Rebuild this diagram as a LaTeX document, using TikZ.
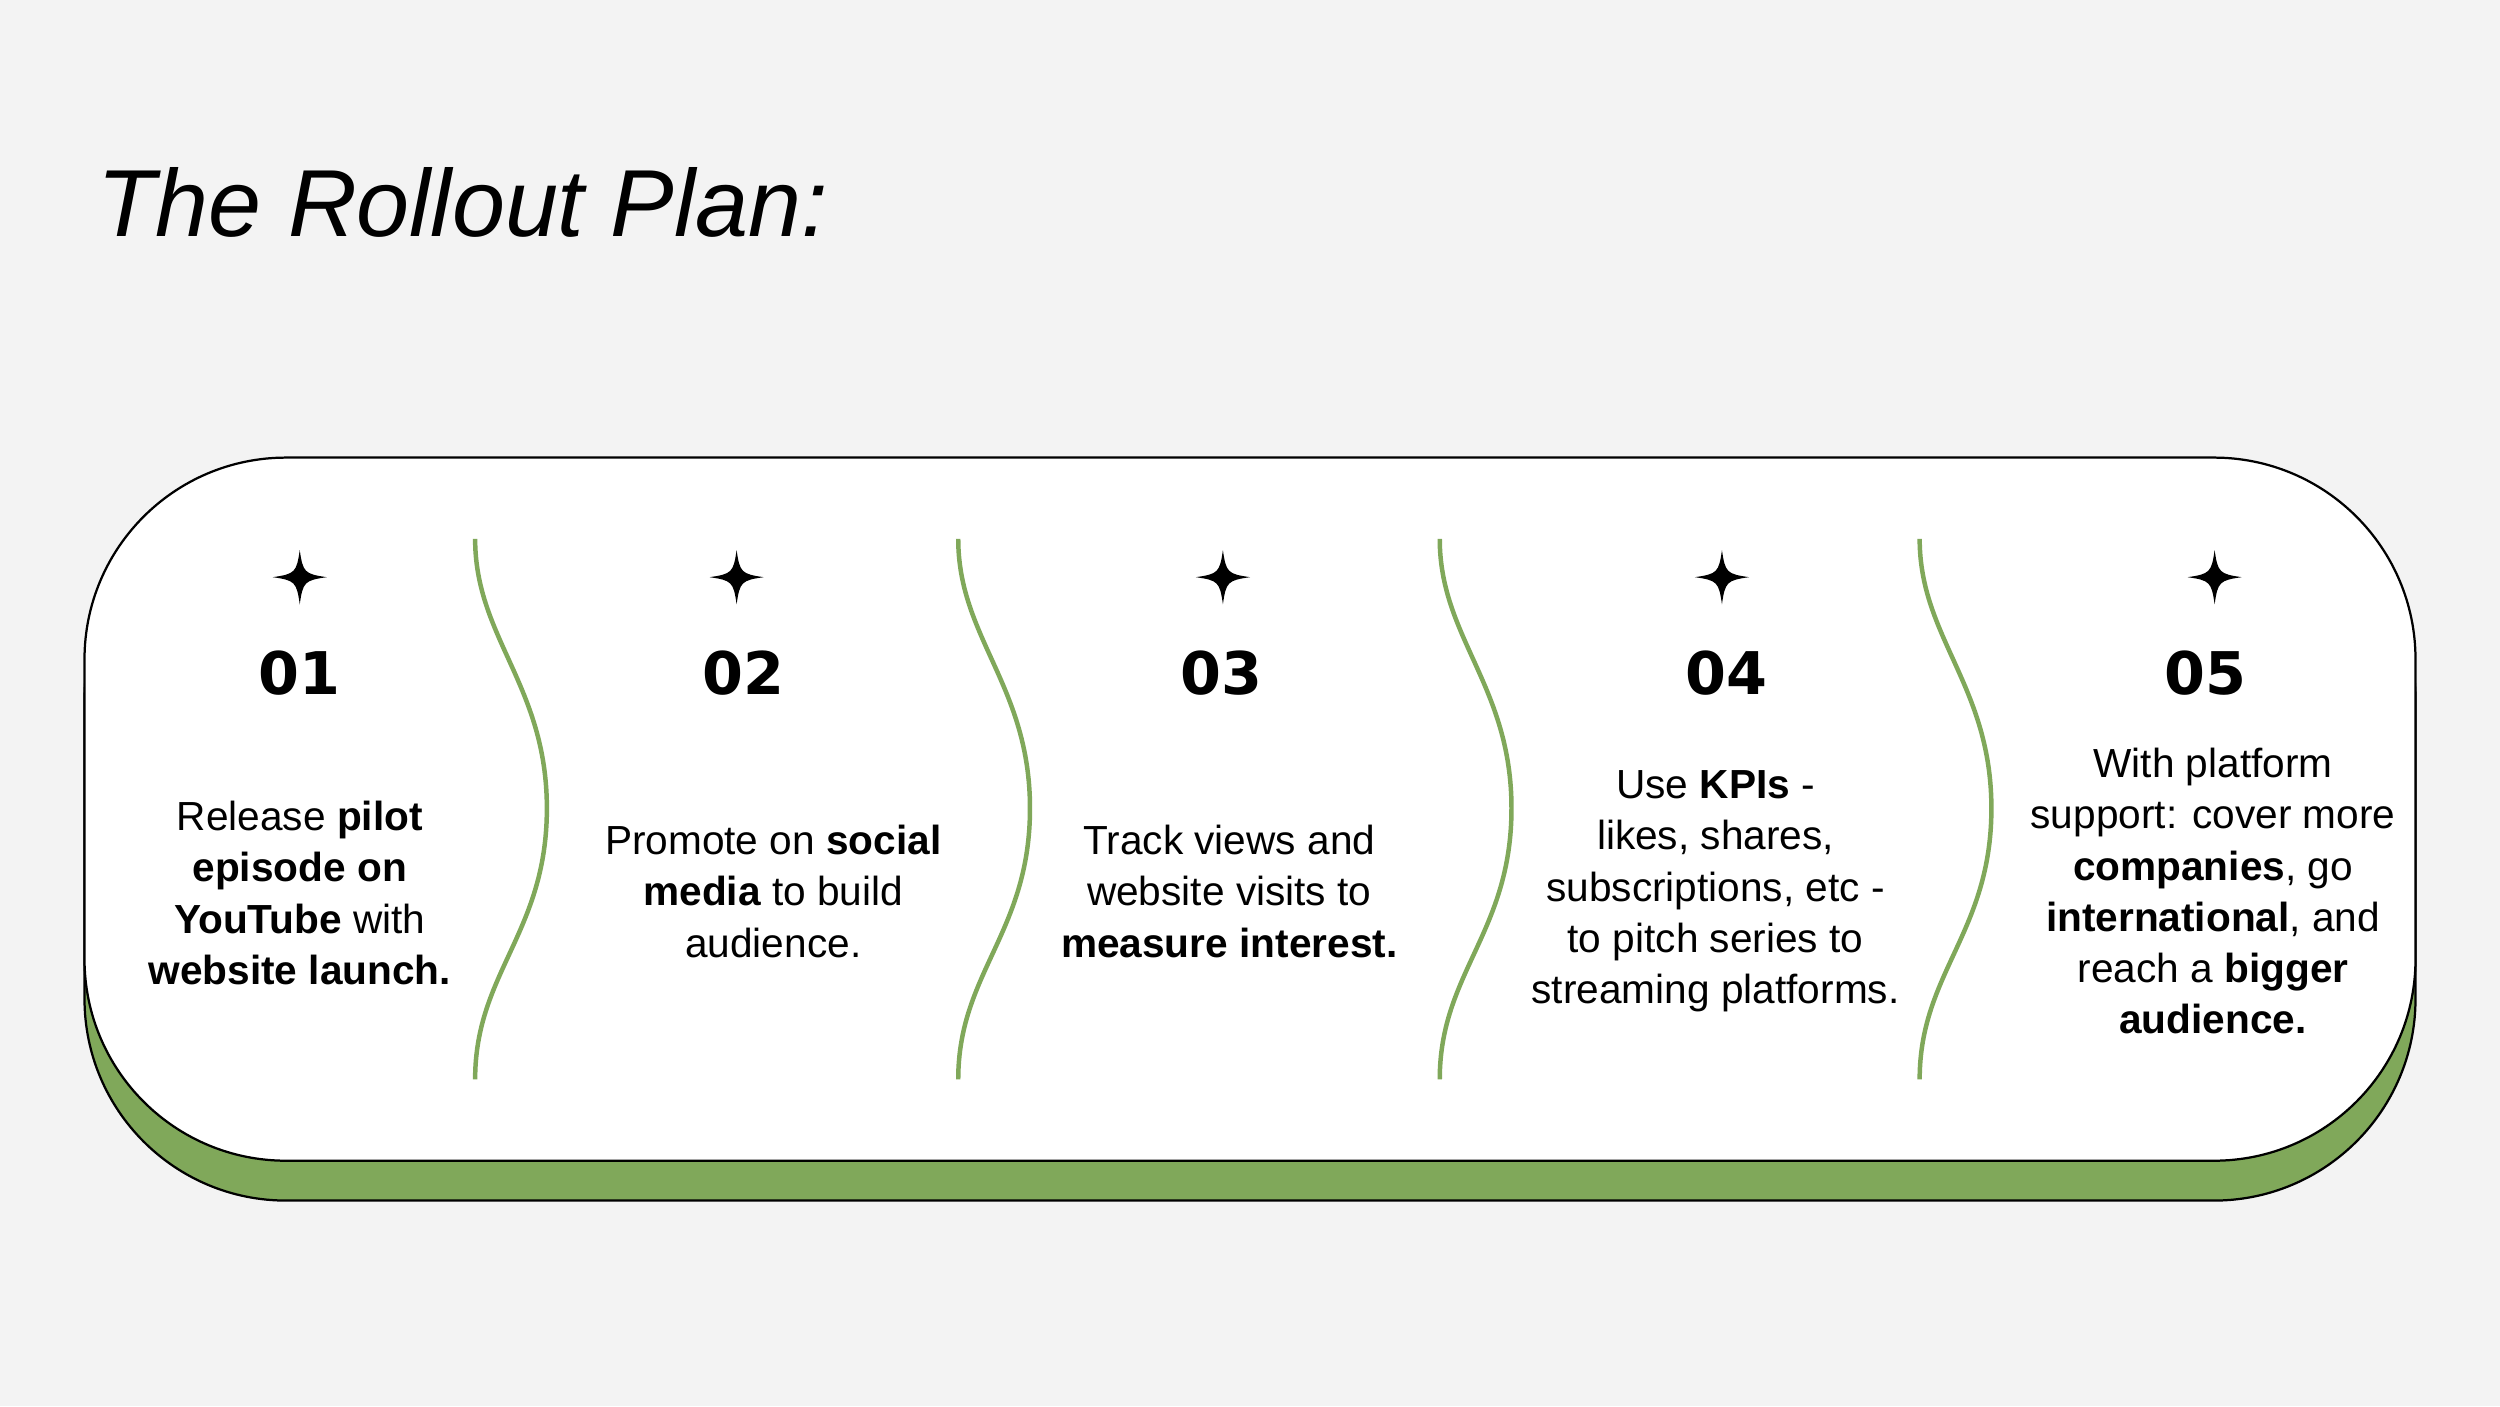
\documentclass[tikz,border=0pt]{standalone}
\usepackage{fontspec}
\setmainfont{Liberation Sans}
\newfontfamily\numfont{DejaVu Sans}
\definecolor{bg}{HTML}{F3F3F3}
\definecolor{grn}{HTML}{80A85A}
\tikzset{
  body/.style={align=center,font=\fontsize{14.5}{18.3}\selectfont},
  num/.style={font=\numfont\bfseries\fontsize{21}{24}\selectfont},
  wave/.style={grn,line width=1.6pt},
}
\newcommand{\starat}[2]{\fill (#1,#2) ++(0,-17) .. controls (#1+2,#2-3) and (#1+3,#2-2) .. (#1+17,#2) .. controls (#1+3,#2+2) and (#1+2,#2+3) .. (#1,#2+17) .. controls (#1-2,#2+3) and (#1-3,#2+2) .. (#1-17,#2) .. controls (#1-3,#2-2) and (#1-2,#2-3) .. (#1,#2-17) -- cycle;}
\begin{document}
\begin{tikzpicture}[x=0.02cm,y=-0.02cm]
\fill[bg] (0,0) rectangle (1568,882);
\useasboundingbox (0,0) rectangle (1568,882);
\node[anchor=west,font=\itshape\fontsize{34}{40}\selectfont] (title) at (55,127) {The Rollout Plan:};
\draw[fill=grn,line width=0.8pt,rounded corners=72] (53,312) rectangle (1515,753);
\draw[fill=white,line width=0.8pt,rounded corners=72] (53,287) rectangle (1515,728);
\foreach \x in {298,601,903,1204}{
  \draw[wave] (\x,338) .. controls (\x,400) and (\x+45,430) .. (\x+45,507) .. controls (\x+45,585) and (\x,610) .. (\x,677);
}
\foreach \x/\n in {188/01,462/02,767/03,1080/04,1389/05}{
  \starat{\x}{362}
}
\node[num] (n1) at (188,422) {01};
\node[num] (n2) at (466,422) {02};
\node[num] (n3) at (766,422) {03};
\node[num] (n4) at (1083,422) {04};
\node[num] (n5) at (1383,422) {05};
\node[body] (t1) at (188,560) {Release \textbf{pilot}\\\textbf{episode on}\\\textbf{YouTube} with\\\textbf{website launch.}};
\node[body] (t2) at (485,559) {Promote on \textbf{social}\\\textbf{media} to build\\audience.};
\node[body] (t3) at (771,559) {Track views and\\website visits to\\\textbf{measure interest.}};
\node[body] (t4) at (1076,559) {Use \textbf{KPIs} -\\likes, shares,\\subscriptions, etc -\\to pitch series to\\streaming platforms.};
\node[body] (t5) at (1388,559) {With platform\\support: cover more\\\textbf{companies}, go\\\textbf{international}, and\\reach a \textbf{bigger}\\\textbf{audience.}};
\end{tikzpicture}
\end{document}
